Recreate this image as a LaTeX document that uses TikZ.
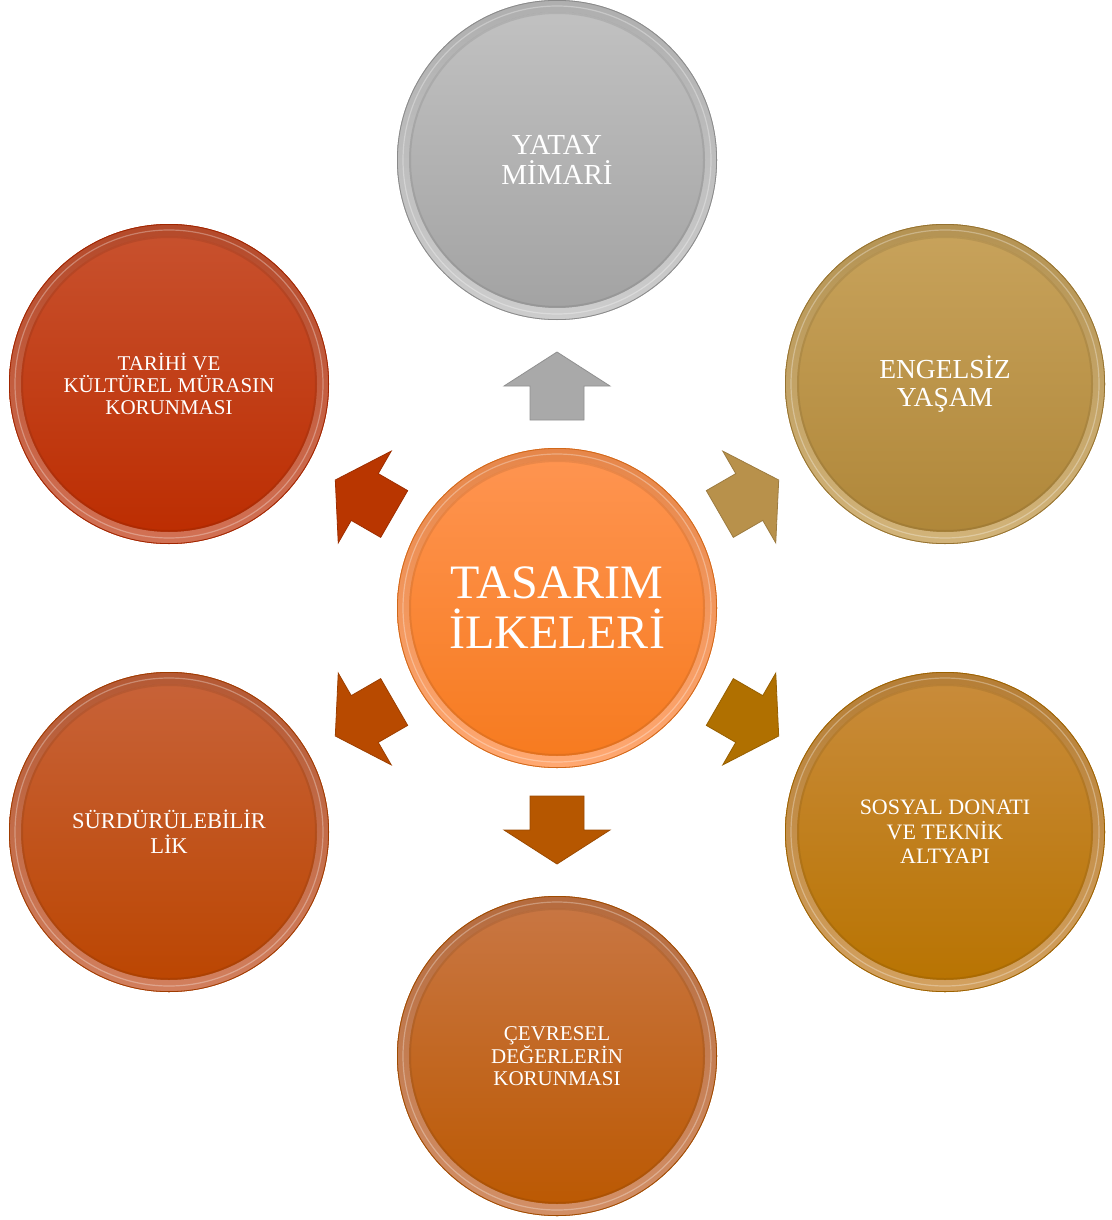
\documentclass[tikz,border=0pt]{standalone}
\usepackage{fontspec}
\setmainfont{Liberation Serif}
\definecolor{gTop}{HTML}{C2C2C2}\definecolor{gBot}{HTML}{A2A2A2}
\definecolor{yTop}{HTML}{C8A35C}\definecolor{yBot}{HTML}{AF8638}
\definecolor{rTop}{HTML}{C8522F}\definecolor{rBot}{HTML}{BC2C00}
\definecolor{lTop}{HTML}{C8633A}\definecolor{lBot}{HTML}{BB4500}
\definecolor{oTop}{HTML}{C98C3C}\definecolor{oBot}{HTML}{B87300}
\definecolor{bTop}{HTML}{C97745}\definecolor{bBot}{HTML}{BB5800}
\definecolor{cTop}{HTML}{FF9552}\definecolor{cBot}{HTML}{F67A1E}
\definecolor{aG}{HTML}{A9A9A9}\definecolor{aY}{HTML}{B8914B}
\definecolor{aO}{HTML}{B07000}\definecolor{aB}{HTML}{B65700}
\definecolor{aL}{HTML}{B84A00}\definecolor{aR}{HTML}{B93600}
\tikzset{
  bubble/.style={circle, minimum size=320pt, inner sep=0pt, text=white, align=center},
  blockarrow/.style={fill=#1, draw=#1!85!black, line width=0.8pt, line join=miter},
}
\newcommand{\rim}[3]{%
  \shade[even odd rule, top color=#3!90!black, bottom color=#3!82!white] (#1.center) circle (160pt) (#1.center) circle (148pt);
  \draw[#2!85!black, line width=0.8pt] (#1.center) circle (159.6pt);
  \draw[white, opacity=0.3, line width=1.2pt] (#1.center) circle (154pt);
  \draw[black, opacity=0.08, line width=2pt] (#1.center) circle (147pt);
}
\newcommand{\barrow}[2]{%
  \begin{scope}[shift={(cen.center)}, rotate=#1]
    \draw[blockarrow=#2] (188pt,-27pt) -- (222pt,-27pt) -- (222pt,-53pt) -- (256pt,0pt)
      -- (222pt,53pt) -- (222pt,27pt) -- (188pt,27pt) -- cycle;
  \end{scope}}
\begin{document}
\begin{tikzpicture}[x=1pt,y=-1pt]
\useasboundingbox (0,0) rectangle (1111,1220);

\node[bubble, top color=cTop, bottom color=cBot, font=\fontsize{48}{50}\selectfont] (cen) at (557,608) {TASARIM\\İLKELERİ};
\rim{cen}{cBot}{cTop}

\node[bubble, top color=gTop, bottom color=gBot, font=\fontsize{29}{30}\selectfont] (yatay) at (557,160) {YATAY\\MİMARİ};
\rim{yatay}{gBot}{gTop}

\node[bubble, top color=yTop, bottom color=yBot, font=\fontsize{27.5}{28}\selectfont] (engel) at (945,384) {ENGELSİZ\\YAŞAM};
\rim{engel}{yBot}{yTop}

\node[bubble, top color=oTop, bottom color=oBot, font=\fontsize{22}{24.5}\selectfont] (sosyal) at (945,832) {SOSYAL DONATI\\VE TEKNİK\\ALTYAPI};
\rim{sosyal}{oBot}{oTop}

\node[bubble, top color=bTop, bottom color=bBot, font=\fontsize{21}{22}\selectfont] (cevre) at (557,1056) {ÇEVRESEL\\DEĞERLERİN\\KORUNMASI};
\rim{cevre}{bBot}{bTop}

\node[bubble, top color=lTop, bottom color=lBot, font=\fontsize{22.5}{25}\selectfont] (surd) at (169,832) {SÜRDÜRÜLEBİLİR\\LİK};
\rim{surd}{lBot}{lTop}

\node[bubble, top color=rTop, bottom color=rBot, font=\fontsize{21}{22}\selectfont] (tarih) at (169,384) {TARİHİ VE\\KÜLTÜREL MÜRASIN\\KORUNMASI};
\rim{tarih}{rBot}{rTop}

\barrow{90}{aG}
\barrow{30}{aY}
\barrow{-30}{aO}
\barrow{-90}{aB}
\barrow{-150}{aL}
\barrow{150}{aR}
\end{tikzpicture}
\end{document}
